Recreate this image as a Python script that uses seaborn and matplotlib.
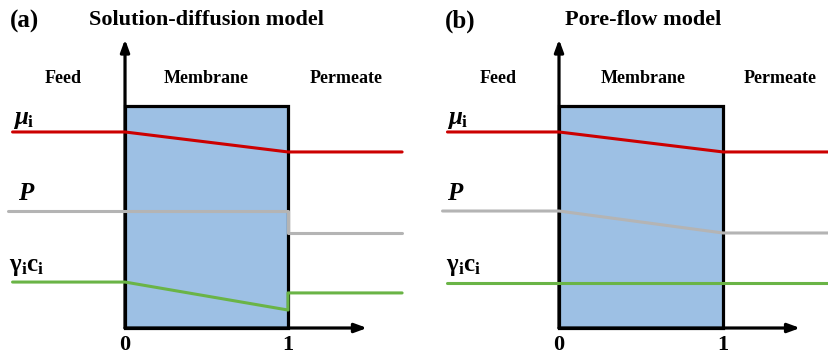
import matplotlib
matplotlib.use("Agg")
import matplotlib.pyplot as plt
import seaborn as sns
import numpy as np
from matplotlib.patches import Rectangle

# ---------------- data ----------------
panels = ["(a)", "(b)"]
titles = ["Solution-diffusion model", "Pore-flow model"]
regions = ["Feed", "Membrane", "Permeate"]
tick_labels = ["0", "1"]
series_labels = [r"$\mu_{\mathrm{i}}$", r"$P$", r"$\mathrm{\gamma_{i}c_{i}}$"]

# panel (a) solution-diffusion
a_mu_x = [-0.69, 0.0, 1.0, 1.70]
a_mu_y = [8.83, 8.83, 7.93, 7.93]
a_p_x = [-0.72, 0.0, 1.0, 1.0, 1.70]
a_p_y = [5.27, 5.27, 5.27, 4.28, 4.28]
a_g_x = [-0.69, 0.0, 1.0, 1.0, 1.70]
a_g_y = [2.07, 2.07, 0.81, 1.58, 1.58]

# panel (b) pore-flow
b_mu_x = [-0.68, 0.0, 1.0, 1.75]
b_mu_y = [8.83, 8.83, 7.93, 7.93]
b_p_x = [-0.71, 0.0, 1.0, 1.75]
b_p_y = [5.27, 5.27, 4.28, 4.28]
b_g_x = [-0.68, 0.0, 1.0, 1.75]
b_g_y = [2.03, 2.03, 2.03, 2.03]

membrane_x = [0.0, 1.0]
membrane_top = 10.0

# ---------------- style ----------------
sns.set_theme(style="white")
plt.rcParams["font.family"] = ["Liberation Serif", "DejaVu Serif"]
plt.rcParams["font.weight"] = "bold"
plt.rcParams["text.color"] = "black"
plt.rcParams["mathtext.fontset"] = "custom"
plt.rcParams["mathtext.rm"] = "Liberation Serif:bold"
plt.rcParams["mathtext.it"] = "Liberation Serif:bold:italic"
plt.rcParams["mathtext.bf"] = "Liberation Serif:bold"

RED = "#cc0000"
GRAY = "#b4b4b4"
GREEN = "#6ab446"
FILL = "#9dc0e4"
LW = 2.2
FRAME_LW = 2.3

W, H = 829, 355
fig = plt.figure(figsize=(W / 100, H / 100), dpi=100)

configs = [
    dict(pos=[0, 0, 414 / W, 1], xlim=(-0.767, 1.773), arrow_x=1.485,
         lines=[(a_mu_x, a_mu_y, RED), (a_p_x, a_p_y, GRAY), (a_g_x, a_g_y, GREEN)],
         label_x=[-0.69, -0.656, -0.71], panel_x=-0.706,
         region_x=[-0.38, 0.50, 1.356], title_x=0.50),
    dict(pos=[414 / W, 0, 415 / W, 1], xlim=(-0.884, 1.646), arrow_x=1.47,
         lines=[(b_mu_x, b_mu_y, RED), (b_p_x, b_p_y, GRAY), (b_g_x, b_g_y, GREEN)],
         label_x=[-0.68, -0.68, -0.69], panel_x=-0.695,
         region_x=[-0.37, 0.51, 1.35], title_x=0.51),
]
label_y = [9.41, 6.08, 2.75]

for i, cfg in enumerate(configs):
    ax = fig.add_axes(cfg["pos"])
    ax.set_xlim(*cfg["xlim"])
    ax.set_ylim(-1.216, 14.775)
    ax.axis("off")

    # membrane box
    ax.add_patch(Rectangle((membrane_x[0], 0), membrane_x[1] - membrane_x[0], membrane_top,
                           facecolor=FILL, edgecolor="black", lw=FRAME_LW, zorder=1))

    # axes arrows
    ax.annotate("", xy=(0, 13.0), xytext=(0, 0),
                arrowprops=dict(arrowstyle="-|>,head_length=0.6,head_width=0.22",
                                color="black", lw=FRAME_LW, shrinkA=0, shrinkB=0), zorder=2)
    ax.annotate("", xy=(cfg["arrow_x"], 0), xytext=(0, 0),
                arrowprops=dict(arrowstyle="-|>,head_length=0.6,head_width=0.22",
                                color="black", lw=FRAME_LW, shrinkA=0, shrinkB=0), zorder=2)

    # profile lines
    for xs, ys, c in cfg["lines"]:
        sns.lineplot(x=xs, y=ys, ax=ax, color=c, lw=LW, sort=False,
                     estimator=None, legend=False, zorder=3)

    # series labels
    for lab, lx, ly in zip(series_labels, cfg["label_x"], label_y):
        ax.text(lx, ly, lab, fontsize=18, ha="left", va="center", fontweight="bold")

    # region labels
    for r, rx in zip(regions, cfg["region_x"]):
        ax.text(rx, 11.26, r, fontsize=13, ha="center", va="center", fontweight="bold")

    # title & panel letter
    ax.text(cfg["title_x"], 13.87, titles[i], fontsize=16, ha="center", va="center",
            fontweight="bold")
    ax.text(cfg["panel_x"], 13.80, panels[i], fontsize=18, ha="left", va="center",
            fontweight="bold")

    # tick labels
    for t, tx in zip(tick_labels, membrane_x):
        ax.text(tx, -0.30, t, fontsize=16, ha="center", va="top", fontweight="bold")

fig.savefig("out.png", dpi=100)
